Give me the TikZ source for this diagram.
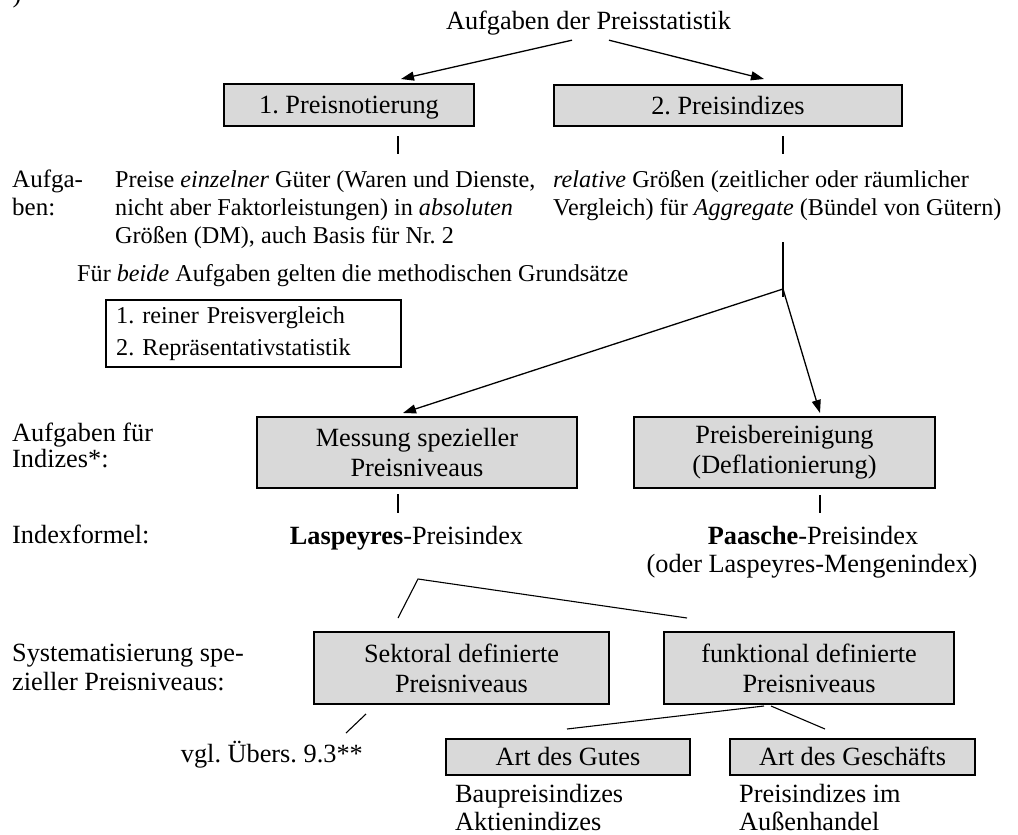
\documentclass[tikz,border=0pt]{standalone}
\usepackage{fontspec}
\setmainfont{Liberation Serif}
\usetikzlibrary{arrows.meta}
\definecolor{boxgrey}{RGB}{217,217,217}
\frenchspacing
\begin{document}
\begin{tikzpicture}[x=1pt,y=-1pt,
  every node/.style={inner sep=0pt, font=\fontsize{26.3}{27}\selectfont},
  txt/.style={anchor=base west},
  ctxt/.style={anchor=base},
  smalltxt/.style={anchor=base west, font=\fontsize{24.2}{24}\selectfont},
  greybox/.style={draw, line width=2.4pt, fill=boxgrey, align=center},
  oneline/.style={text height=17.4pt, text depth=0pt},
  twoline/.style={font=\fontsize{26.3}{30}\selectfont},
  plainbox/.style={draw, line width=2.4pt, align=left, inner xsep=10pt,
    font=\fontsize{24.2}{32}\selectfont},
  conn/.style={line width=1.1pt},
  arr/.style={line width=1.3pt, -{Triangle[length=13pt,width=9pt]}},
]
\useasboundingbox (0,0) rectangle (1018,835);

% fragment of the preceding heading
\node[ctxt] (frag) at (17,2) {)};

% title and the two main tasks
\node[ctxt] (title) at (588.5,29) {Aufgaben der Preisstatistik};
\node[greybox, oneline, minimum width=249.6, minimum height=41.6] (pn) at (349,105) {1. Preisnotierung};
\node[greybox, oneline, minimum width=347.6, minimum height=40.6] (pi) at (728,105.5) {2. Preisindizes};
\draw[arr] ([xshift=-16.5pt,yshift=-5.3pt]title.south) -- ([xshift=52pt,yshift=4pt]pn.north);
\draw[arr] ([xshift=20.5pt,yshift=-5.3pt]title.south) -- ([xshift=36pt,yshift=5pt]pi.north);
\draw[conn] ([xshift=49pt,yshift=-9pt]pn.south) -- ++(0,18);
\draw[conn] ([xshift=55pt,yshift=-9pt]pi.south) -- ++(0,18);

% row: Aufgaben
\node[txt, font=\fontsize{25}{25}\selectfont] (lab1a) at (12,187) {Aufga-};
\node[txt, font=\fontsize{25}{25}\selectfont] (lab1b) at (12,215) {ben:};
\node[smalltxt] (pa) at (115,187) {Preise \textit{einzelner} Güter (Waren und Dienste,};
\node[smalltxt] (pb) at (115,215) {nicht aber Faktorleistungen) in \textit{absoluten}};
\node[smalltxt] (pc) at (115,243) {Größen (DM), auch Basis für Nr. 2};
\node[smalltxt] (ra) at (553,187) {\textit{relative} Größen (zeitlicher oder räumlicher};
\node[smalltxt] (rb) at (553,215) {Vergleich) für \textit{Aggregate} (Bündel von Gütern)};

\node[smalltxt] (beide) at (77,281) {Für \textit{beide} Aufgaben gelten die methodischen Grundsätze};
\node[plainbox, text width=274.6pt, minimum height=66.6] (grund) at (253.5,333.5)
  {1. reiner Preisvergleich\\2. Repräsentativstatistik};

% split into the two index tasks
\coordinate (vtop) at (783,242);
\coordinate (junc) at (783,289);
\coordinate (vend) at (783,297);
\draw[conn] (vtop) -- (vend);

\node[txt] (lab2a) at (12,441) {Aufgaben für};
\node[txt] (lab2b) at (12,467) {Indizes*:};
\node[greybox, twoline, minimum width=319.6, minimum height=70.6] (mess) at (417,452.5)
  {Messung spezieller\\Preisniveaus};
\node[greybox, twoline, minimum width=300.6, minimum height=70.6] (defl) at (784.5,452.5)
  {Preisbereinigung\\(Deflationierung)};
\draw[arr] (junc) -- ([xshift=-14pt,yshift=3pt]mess.north);
\draw[arr] (junc) -- ([xshift=35.5pt,yshift=3pt]defl.north);
\draw[conn] ([xshift=-19pt,yshift=-5pt]mess.south) -- ++(0,19);
\draw[conn] ([xshift=35.5pt,yshift=-6pt]defl.south) -- ++(0,18);

% index formulas
\node[txt] (lab3) at (12,543) {Indexformel:};
\node[ctxt] (lasp) at (406.5,544) {\textbf{Laspeyres}-Preisindex};
\node[ctxt] (paas) at (813,544) {\textbf{Paasche}-Preisindex};
\node[ctxt] (oder) at (812,572) {(oder Laspeyres-Mengenindex)};

% systematisation of special price levels
\node[txt] (lab4a) at (12,661) {Systematisierung spe-};
\node[txt] (lab4b) at (12,690) {zieller Preisniveaus:};
\node[greybox, twoline, minimum width=294.6, minimum height=71.6] (sek) at (461.5,668)
  {Sektoral definierte\\Preisniveaus};
\node[greybox, twoline, minimum width=289.6, minimum height=71.6] (fun) at (809,668)
  {funktional definierte\\Preisniveaus};
\coordinate (apex) at (418,579);
\draw[conn] ([xshift=-63.5pt,yshift=13pt]sek.north) -- (apex) -- ([xshift=-122pt,yshift=13pt]fun.north);

\node[anchor=base east] (vgl) at (363,762) {vgl. Übers. 9.3**};
\coordinate (vglend) at (346,733);
\draw[conn] ([xshift=-95.5pt,yshift=-9pt]sek.south) -- (vglend);

\node[greybox, oneline, minimum width=243.6, minimum height=35.6] (gut) at (568,757) {Art des Gutes};
\node[greybox, oneline, minimum width=244.6, minimum height=35.6] (ges) at (852.5,757) {Art des Geschäfts};
\draw[conn] ([xshift=-45pt,yshift=-1pt]fun.south) -- ([xshift=-1pt,yshift=9pt]gut.north);
\draw[conn] ([xshift=-38pt,yshift=-1pt]fun.south) -- ([xshift=-27.5pt,yshift=9pt]ges.north);

\node[txt] (gut1) at (455,802) {Baupreisindizes};
\node[txt] (gut2) at (455,830) {Aktienindizes};
\node[txt] (ges1) at (739,802) {Preisindizes im};
\node[txt] (ges2) at (739,830) {Außenhandel};
\end{tikzpicture}
\end{document}
